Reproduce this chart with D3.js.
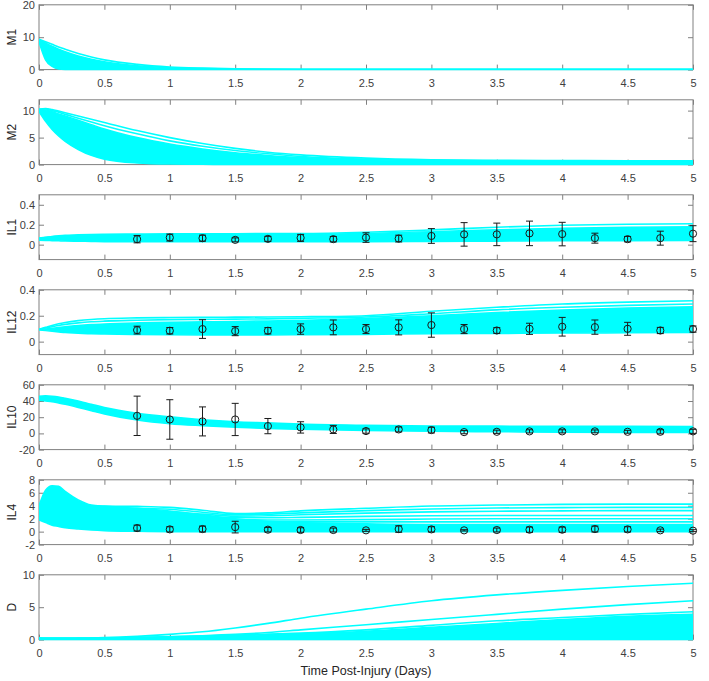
<!DOCTYPE html>
<html>
<head>
<meta charset="utf-8">
<script src="https://cdn.jsdelivr.net/npm/d3@7"></script>
<style>
  body { margin: 0; background: #fff; }
  svg { display: block; font-family: "Liberation Sans", Arial, sans-serif; }
</style>
</head>
<body>
<svg id="chart" width="709" height="681"></svg>
<script>
// time grid shared by every simulated trajectory (days)
const timeGrid = [0, 0.05, 0.1, 0.15, 0.2, 0.3, 0.4, 0.5, 0.75, 1, 1.25, 1.5, 1.75, 2, 2.5, 3, 3.5, 4, 4.5, 5];
const sampleDays = [0.75, 1, 1.25, 1.5, 1.75, 2, 2.25, 2.5, 2.75, 3, 3.25, 3.5, 3.75, 4, 4.25, 4.5, 4.75, 5];
const xTicks = [0, 0.5, 1, 1.5, 2, 2.5, 3, 3.5, 4, 4.5, 5];

// M1
const m1Low = [8.6, 3.0, 1.0, 0.2, 0.05, 0, 0, 0, 0, 0, 0, 0, 0, 0, 0, 0, 0, 0, 0, 0];
const m1High = [9.2, 8.2, 7.2, 6.3, 5.5, 4.2, 3.2, 2.4, 1.2, 0.6, 0.35, 0.2, 0.12, 0.1, 0.1, 0.1, 0.1, 0.1, 0.1, 0.1];
const m1Curves = [
  [9.4, 8.6, 7.8, 7.0, 6.3, 5.0, 3.9, 3.0, 1.6, 0.8, 0.45, 0.25, 0.15, 0.12, 0.1, 0.1, 0.1, 0.1, 0.1, 0.1]
];
const m1Ticks = [0, 10, 20];

// M2
const m2Low = [9.8, 8.0, 6.5, 5.3, 4.3, 2.8, 1.7, 1.0, 0.3, 0.1, 0.05, 0, 0, 0, 0, 0, 0, 0, 0, 0];
const m2High = [10.1, 10.1, 9.8, 9.4, 9.0, 8.2, 7.4, 6.6, 5.0, 3.8, 2.9, 2.2, 1.7, 1.3, 0.9, 0.7, 0.6, 0.55, 0.5, 0.5];
const m2Curves = [
  [10.3, 10.4, 10.2, 9.9, 9.6, 9.0, 8.4, 7.8, 6.3, 5.0, 3.9, 3.0, 2.3, 1.8, 1.2, 0.9, 0.8, 0.75, 0.7, 0.7],
  [10.2, 10.3, 10.0, 9.7, 9.3, 8.6, 7.9, 7.2, 5.7, 4.4, 3.4, 2.6, 2.0, 1.5, 1.0, 0.8, 0.7, 0.65, 0.6, 0.6]
];
const m2Ticks = [0, 5, 10];

// IL1
const il1Low = [0.045, 0.042, 0.04, 0.038, 0.036, 0.034, 0.032, 0.03, 0.03, 0.03, 0.03, 0.03, 0.03, 0.03, 0.03, 0.032, 0.035, 0.038, 0.04, 0.042];
const il1High = [0.065, 0.072, 0.08, 0.086, 0.09, 0.095, 0.098, 0.1, 0.1, 0.1, 0.1, 0.1, 0.1, 0.102, 0.112, 0.13, 0.15, 0.165, 0.175, 0.18];
const il1Curves = [
  [0.065, 0.073, 0.082, 0.088, 0.093, 0.098, 0.102, 0.104, 0.106, 0.108, 0.11, 0.11, 0.111, 0.112, 0.125, 0.148, 0.175, 0.195, 0.205, 0.21]
];
const il1Ticks = [0, 0.2, 0.4];
const il1Mean = [0.055, 0.071, 0.065, 0.048, 0.058, 0.068, 0.055, 0.071, 0.061, 0.087, 0.103, 0.103, 0.113, 0.106, 0.065, 0.055, 0.065, 0.11];
const il1Err = [0.037, 0.035, 0.03, 0.02, 0.025, 0.035, 0.027, 0.048, 0.034, 0.074, 0.118, 0.113, 0.123, 0.118, 0.05, 0.027, 0.07, 0.08];

// IL12
const il12Low = [0.09, 0.085, 0.08, 0.075, 0.07, 0.065, 0.06, 0.058, 0.055, 0.053, 0.052, 0.052, 0.052, 0.053, 0.056, 0.06, 0.063, 0.066, 0.068, 0.07];
const il12High = [0.092, 0.098, 0.104, 0.11, 0.115, 0.125, 0.132, 0.137, 0.145, 0.15, 0.153, 0.156, 0.16, 0.165, 0.178, 0.2, 0.225, 0.245, 0.26, 0.27];
const il12Curves = [
  [0.095, 0.11, 0.125, 0.138, 0.148, 0.162, 0.171, 0.177, 0.183, 0.186, 0.188, 0.189, 0.19, 0.192, 0.2, 0.235, 0.265, 0.29, 0.305, 0.315],
  [0.095, 0.105, 0.115, 0.125, 0.133, 0.145, 0.153, 0.158, 0.165, 0.17, 0.172, 0.174, 0.176, 0.18, 0.19, 0.215, 0.245, 0.265, 0.28, 0.29]
];
const il12Ticks = [0, 0.2, 0.4];
const il12Mean = [0.089, 0.084, 0.097, 0.081, 0.084, 0.097, 0.11, 0.097, 0.11, 0.128, 0.097, 0.086, 0.099, 0.115, 0.112, 0.099, 0.086, 0.097];
const il12Err = [0.03, 0.025, 0.072, 0.035, 0.025, 0.04, 0.057, 0.035, 0.058, 0.094, 0.035, 0.022, 0.043, 0.072, 0.055, 0.05, 0.024, 0.024];

// IL10
const il10Low = [41, 40, 39, 37.5, 36, 32, 28, 24, 16.5, 12, 9.5, 7.5, 6, 5, 3.5, 2.5, 2, 1.5, 1.2, 1.0];
const il10High = [46, 46.5, 46, 45, 43.5, 40, 36, 32, 25, 20.5, 17, 14.5, 13, 11.5, 10, 9.2, 9, 8.8, 8.7, 8.6];
const il10Ticks = [-20, 0, 20, 40, 60];
const il10Mean = [21.7, 17.2, 14.8, 17.2, 9.0, 7.4, 4.9, 2.9, 4.9, 4.1, 1.6, 2.0, 2.5, 2.5, 2.5, 2.0, 2.0, 2.5];
const il10Err = [24.3, 24.4, 17.9, 19.9, 9.4, 7.0, 5.0, 2.7, 3.0, 3.5, 2.0, 2.0, 2.0, 2.0, 1.8, 1.8, 2.5, 2.5];

// IL4
const il4Low = [1.8, 1.4, 1.0, 0.8, 0.6, 0.4, 0.25, 0.15, 0.05, 0, 0, 0, 0, 0, 0, 0, 0, 0, 0, 0];
const il4High = [4.0, 6.4, 7.1, 7.0, 6.2, 4.9, 4.1, 3.9, 3.6, 3.2, 2.6, 2.0, 1.6, 1.4, 1.2, 1.1, 1.1, 1.1, 1.1, 1.1];
const il4Curves = [
  [4.0, 5.0, 5.5, 5.3, 4.9, 4.3, 4.0, 3.95, 3.9, 3.75, 3.3, 2.8, 2.9, 3.2, 3.6, 3.95, 4.1, 4.2, 4.25, 4.25],
  [3.8, 4.6, 5.0, 4.9, 4.6, 4.1, 3.8, 3.7, 3.6, 3.45, 3.0, 2.6, 2.7, 2.9, 3.25, 3.5, 3.65, 3.7, 3.75, 3.75],
  [3.5, 4.2, 4.6, 4.5, 4.3, 3.8, 3.5, 3.35, 3.2, 3.05, 2.7, 2.4, 2.45, 2.6, 2.85, 3.05, 3.15, 3.2, 3.25, 3.25],
  [3.2, 3.8, 4.1, 4.0, 3.8, 3.4, 3.1, 2.9, 2.7, 2.5, 2.3, 2.15, 2.15, 2.2, 2.35, 2.45, 2.5, 2.5, 2.5, 2.5],
  [3.0, 3.5, 3.6, 3.5, 3.3, 3.0, 2.7, 2.5, 2.3, 2.1, 1.95, 1.85, 1.8, 1.8, 1.85, 1.95, 2.0, 2.0, 2.0, 2.0],
  [2.6, 3.0, 3.1, 3.0, 2.8, 2.5, 2.3, 2.1, 1.9, 1.75, 1.65, 1.55, 1.5, 1.5, 1.5, 1.5, 1.5, 1.5, 1.5, 1.5]
];
const il4Ticks = [-2, 0, 2, 4, 6, 8];
const il4Mean = [0.55, 0.35, 0.4, 0.7, 0.3, 0.25, 0.25, 0.2, 0.4, 0.35, 0.2, 0.25, 0.3, 0.3, 0.4, 0.35, 0.2, 0.15];
const il4Err = [0.45, 0.4, 0.45, 0.9, 0.35, 0.35, 0.3, 0.15, 0.5, 0.4, 0.1, 0.3, 0.4, 0.4, 0.45, 0.4, 0.2, 0.15];

// D
const dLow = [0, 0, 0, 0, 0, 0, 0, 0, 0, 0, 0, 0, 0, 0, 0, 0, 0, 0, 0, 0];
const dHigh = [0.25, 0.2, 0.2, 0.2, 0.2, 0.2, 0.22, 0.25, 0.3, 0.4, 0.5, 0.6, 0.75, 0.9, 1.3, 1.9, 2.5, 3.1, 3.6, 3.9];
const dCurves = [
  [0.25, 0.2, 0.2, 0.2, 0.2, 0.22, 0.25, 0.3, 0.5, 0.8, 1.2, 1.8, 2.5, 3.3, 4.7, 6.0, 6.9, 7.6, 8.2, 8.7],
  [0.25, 0.2, 0.2, 0.2, 0.2, 0.2, 0.22, 0.25, 0.32, 0.45, 0.6, 0.8, 1.1, 1.5, 2.3, 3.1, 3.9, 4.7, 5.4, 6.0],
  [0.25, 0.2, 0.2, 0.2, 0.2, 0.2, 0.22, 0.25, 0.3, 0.42, 0.55, 0.7, 0.85, 1.0, 1.5, 2.2, 2.9, 3.4, 3.9, 4.3]
];
const dTicks = [0, 5, 10];

const panels = [
  { label: "M1", domain: [0, 20], ticks: m1Ticks, low: m1Low, high: m1High, curves: m1Curves },
  { label: "M2", domain: [0, 12], ticks: m2Ticks, low: m2Low, high: m2High, curves: m2Curves },
  { label: "IL1", domain: [-0.15, 0.5], ticks: il1Ticks, low: il1Low, high: il1High, curves: il1Curves, mean: il1Mean, err: il1Err },
  { label: "IL12", domain: [-0.1, 0.4], ticks: il12Ticks, low: il12Low, high: il12High, curves: il12Curves, mean: il12Mean, err: il12Err },
  { label: "IL10", domain: [-20, 60], ticks: il10Ticks, low: il10Low, high: il10High, curves: [], mean: il10Mean, err: il10Err },
  { label: "IL4", domain: [-2, 8], ticks: il4Ticks, low: il4Low, high: il4High, curves: il4Curves, mean: il4Mean, err: il4Err },
  { label: "D", domain: [0, 10], ticks: dTicks, low: dLow, high: dHigh, curves: dCurves }
];

const dimensions = {
  width: 709,
  height: 681,
  left: 39,
  right: 693,
  firstTop: 4.8,
  step: 95,
  panelHeight: 64.8
};

const CYAN = "#00ffff";
const BOX = "#808080";
const TEXT = "#404040";

const svg = d3.select("#chart");
const x = d3.scaleLinear().domain([0, 5]).range([dimensions.left, dimensions.right]);

function styleAxis(g) {
  g.select(".domain").remove();
  g.selectAll(".tick line").attr("stroke", BOX);
  g.selectAll(".tick text").attr("fill", TEXT).style("font-size", "11px");
}

function drawPanel(panel, i) {
  const top = dimensions.firstTop + i * dimensions.step;
  const bottom = top + dimensions.panelHeight;
  const y = d3.scaleLinear().domain(panel.domain).range([bottom, top]);
  const g = svg.append("g");

  g.append("clipPath")
    .attr("id", "clip" + i)
    .append("rect")
    .attr("x", dimensions.left)
    .attr("y", top - 1.5)
    .attr("width", dimensions.right - dimensions.left)
    .attr("height", dimensions.panelHeight + 3);

  // box
  g.append("rect")
    .attr("x", dimensions.left)
    .attr("y", top)
    .attr("width", dimensions.right - dimensions.left)
    .attr("height", dimensions.panelHeight)
    .attr("fill", "none")
    .attr("stroke", BOX)
    .attr("stroke-width", 1);

  const fmt = d => String(d);

  g.append("g")
    .attr("transform", `translate(0,${bottom})`)
    .call(d3.axisBottom(x).tickValues(xTicks).tickSize(-5).tickPadding(10).tickFormat(fmt))
    .call(styleAxis);
  g.append("g")
    .attr("transform", `translate(0,${top})`)
    .call(d3.axisTop(x).tickValues(xTicks).tickSize(-5).tickFormat(""))
    .call(styleAxis);
  g.append("g")
    .attr("transform", `translate(${dimensions.left},0)`)
    .call(d3.axisLeft(y).tickValues(panel.ticks).tickSize(-5).tickPadding(4).tickFormat(fmt))
    .call(styleAxis);
  g.append("g")
    .attr("transform", `translate(${dimensions.right},0)`)
    .call(d3.axisRight(y).tickValues(panel.ticks).tickSize(-5).tickFormat(""))
    .call(styleAxis);

  const sims = g.append("g").attr("clip-path", `url(#clip${i})`);

  // envelope of the bulk of the simulations
  const band = d3.area()
    .x((d, j) => x(timeGrid[j]))
    .y0((d, j) => y(panel.low[j]))
    .y1((d, j) => y(panel.high[j]))
    .curve(d3.curveMonotoneX);

  sims.append("path")
    .datum(timeGrid)
    .attr("d", band)
    .attr("fill", CYAN)
    .attr("stroke", CYAN)
    .attr("stroke-width", 1.5);

  const line = d3.line()
    .x((d, j) => x(timeGrid[j]))
    .y(d => y(d))
    .curve(d3.curveMonotoneX);

  sims.selectAll(".sim")
    .data(panel.curves)
    .enter()
    .append("path")
    .attr("class", "sim")
    .attr("d", line)
    .attr("fill", "none")
    .attr("stroke", CYAN)
    .attr("stroke-width", 1.6);

  // measured data with error bars
  if (panel.mean) {
    const pts = sampleDays.map((t, j) => ({ t, v: panel.mean[j], e: panel.err[j] }));
    const eb = g.append("g").attr("stroke", "#1a1a1a").attr("stroke-width", 1).attr("fill", "none");
    pts.forEach(p => {
      const cx = x(p.t);
      eb.append("line").attr("x1", cx).attr("x2", cx).attr("y1", y(p.v - p.e)).attr("y2", y(p.v + p.e));
      eb.append("line").attr("x1", cx - 3.5).attr("x2", cx + 3.5).attr("y1", y(p.v - p.e)).attr("y2", y(p.v - p.e));
      eb.append("line").attr("x1", cx - 3.5).attr("x2", cx + 3.5).attr("y1", y(p.v + p.e)).attr("y2", y(p.v + p.e));
      eb.append("circle").attr("cx", cx).attr("cy", y(p.v)).attr("r", 3.6);
    });
  }

  svg.append("text")
    .attr("text-anchor", "middle")
    .attr("transform", `translate(16,${(top + bottom) / 2})rotate(-90)`)
    .attr("fill", "#262626")
    .style("font-size", "12px")
    .text(panel.label);
}

panels.forEach(drawPanel);

svg.append("text")
  .attr("text-anchor", "middle")
  .attr("x", (dimensions.left + dimensions.right) / 2)
  .attr("y", 675)
  .attr("fill", "#262626")
  .style("font-size", "12.5px")
  .text("Time Post-Injury (Days)");
</script>
</body>
</html>
